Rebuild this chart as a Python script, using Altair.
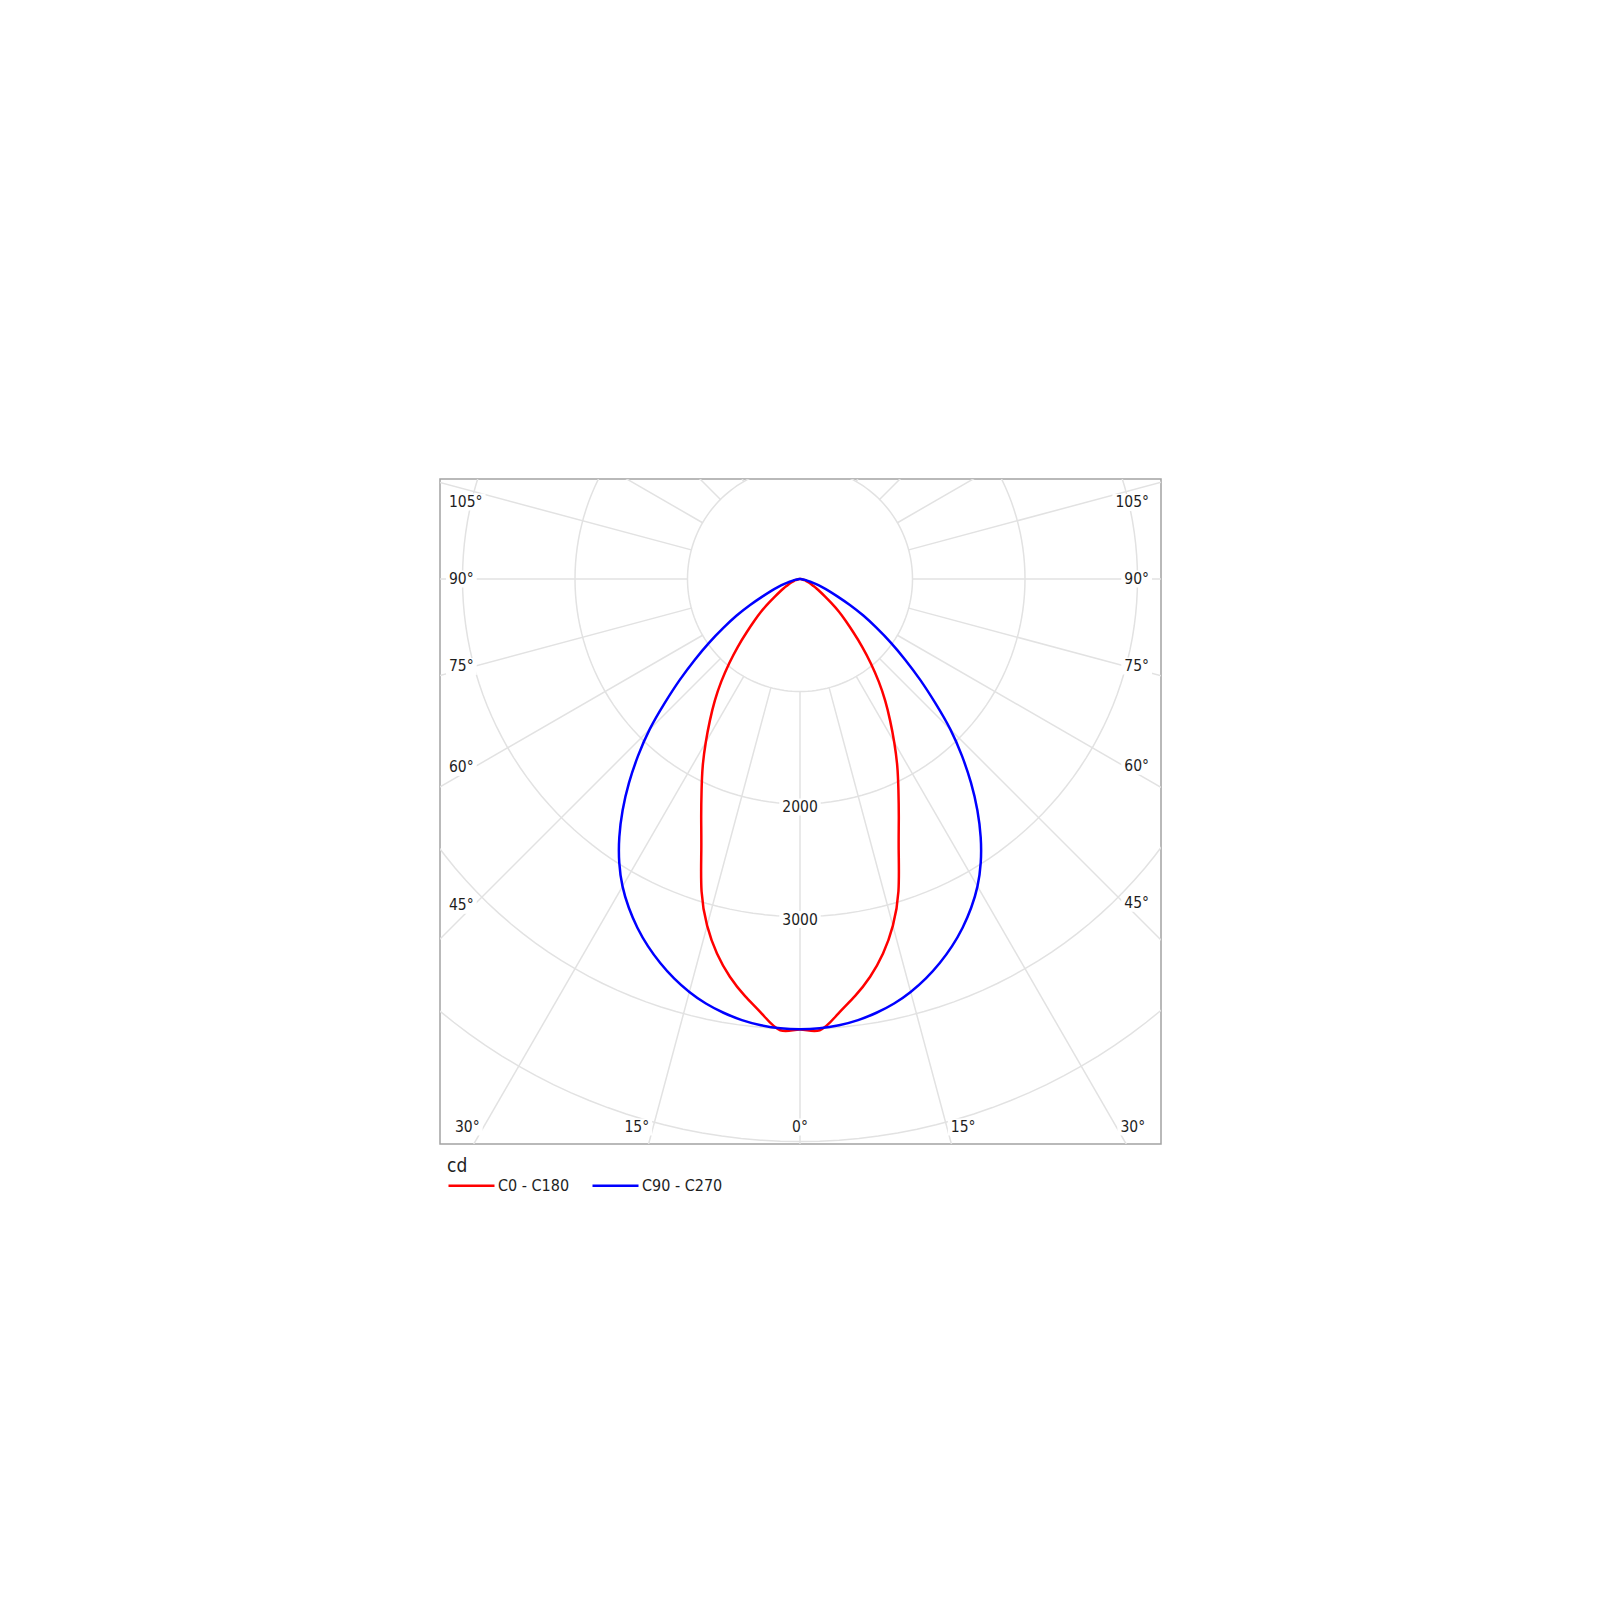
import math
import altair as alt
import pandas as pd

# ---------------- data ----------------
ANGLES = [0, 2.5, 5, 7.5, 10, 12.5, 15, 17.5, 20, 22.5, 25, 27.5, 30, 32.5, 35,
          37.5, 40, 42.5, 45, 47.5, 50, 52.5, 55, 57.5, 60, 62.5, 65, 67.5, 70,
          72.5, 75, 77.5, 80, 82.5, 85, 87.5, 90]
C0_C180 = [4005, 4015, 3880, 3740, 3590, 3410, 3190, 2910, 2565, 2295, 2070, 1872,
           1675, 1490, 1320, 1150, 980, 820, 670, 550, 450, 350, 270, 215, 170,
           135, 110, 88, 70, 55, 42, 31, 22, 14, 8, 3, 0]
C90_C270 = [4003, 3998, 3982, 3955, 3915, 3865, 3800, 3722, 3632, 3532, 3420, 3295,
            3155, 2990, 2800, 2590, 2365, 2130, 1890, 1630, 1395, 1178, 985, 805,
            650, 500, 370, 280, 205, 145, 95, 65, 45, 28, 15, 6, 0]
SERIES = ["C0 - C180", "C90 - C270"]
COLORS = ["#ff0000", "#0000ff"]
RING_VALUES = [1000, 2000, 3000, 4000, 5000]
RING_LABELS = [2000, 3000]
SPOKE_ANGLES = list(range(0, 360, 15))
SIDE_LABEL_ANGLES = [45, 60, 75, 90, 105]
BOTTOM_LABEL_ANGLES = [0, 15, 30]
UNIT = "cd"

# ---------------- geometry ----------------
K = 0.1125            # px per cd
W, H = 721, 665       # plot box
CX, CY = 360, 100     # pole position inside the box (px)
FONT = '"DejaVu Sans Condensed", "Liberation Sans", sans-serif'
FS = 15.5
TXT = "#1e1e1e"
GRID = "#e2e2e2"


def d(px, py):
    """pixel offset from pole (y downwards) -> data units"""
    return px / K, -py / K


def text_w(s, fs=FS):
    return sum(0.45 * fs if c == "°" else 0.572 * fs for c in s)


# curves
rows = []
for name, vals in zip(SERIES, [C0_C180, C90_C270]):
    seq = [(-1, a, v) for a, v in zip(ANGLES[::-1], vals[::-1])] + \
          [(1, a, v) for a, v in zip(ANGLES[1:], vals[1:])]
    for i, (side, a, v) in enumerate(seq):
        t = math.radians(a)
        rows.append({"series": name, "o": i,
                     "x": side * v * math.sin(t), "y": -v * math.cos(t)})
curves = pd.DataFrame(rows)

# rings
rows = []
for r in RING_VALUES:
    for i, a in enumerate(range(0, 362, 2)):
        t = math.radians(a)
        rows.append({"r": r, "o": i, "x": r * math.sin(t), "y": -r * math.cos(t)})
rings = pd.DataFrame(rows)

# spokes
rows = []
for a in SPOKE_ANGLES:
    t = math.radians(a)
    rows.append({"x": 1000 * math.sin(t), "y": -1000 * math.cos(t),
                 "x2": 9000 * math.sin(t), "y2": -9000 * math.cos(t)})
spokes = pd.DataFrame(rows)

# labels (px positions from pole)
labs = []
left_x = 9 - CX
right_x = W - 12 - CX
for a in SIDE_LABEL_ANGLES:
    s = f"{a}°"
    w = text_w(s)
    cot = math.cos(math.radians(a)) / math.sin(math.radians(a))
    shift = 8 if a > 90 else 0
    labs.append((s, left_x, -(left_x + w) * cot + shift, "left", w))
    labs.append((s, right_x, (right_x - w) * cot + shift, "right", w))
by = H - CY - 17
for a in BOTTOM_LABEL_ANGLES:
    s = f"{a}°"
    w = text_w(s)
    if a == 0:
        labs.append((s, 0, by, "center", w))
    else:
        sx = by * math.tan(math.radians(a))
        labs.append((s, -(sx + 4), by, "right", w))
        labs.append((s, sx + 4, by, "left", w))
for r in RING_LABELS:
    s = str(r)
    labs.append((s, 0, r * K + 3, "center", text_w(s)))

lrows, brows = [], []
for s, px, py, al, w in labs:
    x, y = d(px, py)
    lrows.append({"t": s, "x": x, "y": y, "al": al})
    if al == "left":
        l, rr = px - 3, px + w + 3
    elif al == "right":
        l, rr = px - w - 3, px + 3
    else:
        l, rr = px - w / 2 - 3, px + w / 2 + 3
    x1, y1 = d(l, py - 8.5)
    x2, y2 = d(rr, py + 8.5)
    brows.append({"x": x1, "x2": x2, "y": y1, "y2": y2})
labels = pd.DataFrame(lrows)
boxes = pd.DataFrame(brows)

xs = alt.Scale(domain=[-CX / K, (W - CX) / K], nice=False, zero=False)
ys = alt.Scale(domain=[-(H - CY) / K, CY / K], nice=False, zero=False)
X = alt.X("x:Q", scale=xs, axis=None)
Y = alt.Y("y:Q", scale=ys, axis=None)

ring_layer = alt.Chart(rings).mark_line(clip=True, color=GRID, strokeWidth=1.5).encode(
    x=X, y=Y, detail="r:N", order="o:Q")
spoke_layer = alt.Chart(spokes).mark_rule(clip=True, color=GRID, strokeWidth=1.5).encode(
    x=X, y=Y, x2="x2:Q", y2="y2:Q")
box_layer = alt.Chart(boxes).mark_rect(color="white").encode(
    x=X, y=Y, x2="x2:Q", y2="y2:Q")
curve_layer = alt.Chart(curves).mark_line(strokeWidth=2.5, interpolate="natural").encode(
    x=X, y=Y, order="o:Q",
    color=alt.Color("series:N",
                    scale=alt.Scale(domain=SERIES, range=COLORS),
                    legend=alt.Legend(title=UNIT, orient="none", legendX=7, legendY=678,
                                      direction="horizontal", symbolType="stroke",
                                      symbolSize=2116, symbolStrokeWidth=2.5,
                                      columnPadding=17, labelOffset=2, titlePadding=-15,
                                      padding=0, titleFontSize=19, titleFontWeight="normal",
                                      titleFont=FONT, titleColor=TXT, labelFont=FONT,
                                      labelFontSize=16, labelColor=TXT)))
text_layers = []
for al in ["left", "right", "center"]:
    text_layers.append(
        alt.Chart(labels).transform_filter(alt.datum.al == al)
        .mark_text(align=al, baseline="middle", font=FONT, fontSize=FS, color=TXT)
        .encode(x=X, y=Y, text="t:N"))

chart = alt.layer(ring_layer, spoke_layer, box_layer, curve_layer, *text_layers).properties(
    width=W, height=H,
    autosize=alt.AutoSizeParams(type="none"),
    padding={"left": 432, "top": 471, "right": 60, "bottom": 100},
).configure_view(stroke="#a3a3a3", strokeWidth=1.5)

chart.save("out.html", embed_options={"renderer": "svg", "actions": False})
